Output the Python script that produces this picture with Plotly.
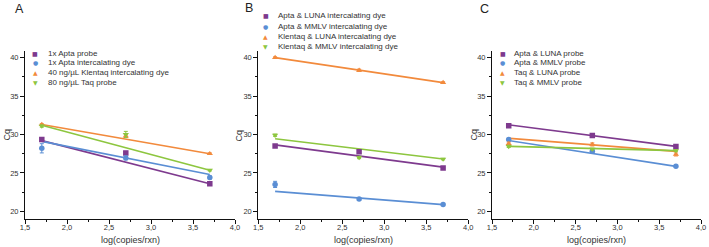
import plotly.graph_objects as go

# ---------------- data ----------------
x_log = [1.7, 2.7, 3.7]
x_fit = [1.7, 3.7]

# Panel A
a_names = ["1x Apta probe", "1x Apta intercalating dye",
           "40 ng/µL Klentaq intercalating dye", "80 ng/µL Taq probe"]
a_cq = [[29.35, 27.6, 23.6],
        [28.2, 26.95, 24.4],
        [31.3, 29.8, 27.5],
        [31.1, 30.0, 25.35]]
a_err = [[0.15, 0.2, 0.1],
         [0.6, 0.25, 0.2],
         [0.1, 0.15, 0.1],
         [0.15, 0.4, 0.1]]
a_fit = [[29.2, 23.6],
         [29.1, 24.8],
         [31.3, 27.5],
         [31.2, 25.35]]

# Panel B
b_names = ["Apta & LUNA intercalating dye", "Apta & MMLV intercalating dye",
           "Klentaq & LUNA intercalating dye", "Klentaq & MMLV intercalating dye"]
b_cq = [[28.5, 27.75, 25.65],
        [23.5, 21.6, 20.9],
        [40.0, 38.35, 36.75],
        [29.9, 27.0, 26.8]]
b_err = [[0.15, 0.2, 0.1],
         [0.4, 0.15, 0.1],
         [0.1, 0.15, 0.1],
         [0.15, 0.15, 0.1]]
b_fit = [[28.65, 25.75],
         [22.6, 20.87],
         [40.0, 36.75],
         [29.45, 26.8]]

# Panel C
c_names = ["Apta & LUNA probe", "Apta & MMLV probe",
           "Taq & LUNA probe", "Taq & MMLV probe"]
c_cq = [[31.15, 29.85, 28.45],
        [29.35, 27.8, 25.85],
        [28.8, 28.7, 27.4],
        [28.45, 28.1, 27.9]]
c_err = [[0.15, 0.1, 0.1],
         [0.15, 0.15, 0.1],
         [0.2, 0.2, 0.2],
         [0.15, 0.1, 0.1]]
c_fit = [[31.25, 28.45],
         [29.2, 25.85],
         [29.5, 27.8],
         [28.45, 27.9]]

panel_labels = ["A", "B", "C"]
x_ticks = [1.5, 2.0, 2.5, 3.0, 3.5, 4.0]
y_ticks = [20, 25, 30, 35, 40]
x_title = "log(copies/rxn)"
y_title = "Cq"

# ---------------- style ----------------
colors = ["#7E3A8E", "#5A8ED4", "#F28A3C", "#8DC63F"]
symbols = ["square", "circle", "triangle-up", "triangle-down"]
glyphs = ["■", "●", "▲", "▼"]
FONT = "Liberation Sans, Arial, sans-serif"

W, H = 709, 247


def px(x):
    return x / W


def py(y):
    return 1 - y / H


x_doms = [(25, 235), (258.3, 468.3), (492, 701)]
y_bot, y_top = 219, 50.7

panels = [(a_names, a_cq, a_err, a_fit),
          (b_names, b_cq, b_err, b_fit),
          (c_names, c_cq, c_err, c_fit)]

legend_pos = [(35, 45.5, 53, 9.8), (265.5, 275.5, 16, 10.1), (502.5, 511.5, 53, 9.8)]
label_pos = [(19, 9.5), (249, 7.5), (484, 9.5)]
cq_pos = [6.5, 238.5, 473.5]

fig = go.Figure()
annotations = []
layout_axes = {}

for p, (names, cq, err, fit) in enumerate(panels):
    sfx = "" if p == 0 else str(p + 1)
    xa, ya = "x" + sfx, "y" + sfx
    for k in range(4):
        fig.add_trace(go.Scatter(
            x=x_fit, y=fit[k], mode="lines", xaxis=xa, yaxis=ya,
            line=dict(color=colors[k], width=1.6), showlegend=False,
            hoverinfo="skip"))
    for k in range(4):
        fig.add_trace(go.Scatter(
            x=x_log, y=cq[k], mode="markers", name=names[k], xaxis=xa, yaxis=ya,
            marker=dict(symbol=symbols[k], color=colors[k], size=5.5),
            error_y=dict(type="data", array=err[k], color=colors[k],
                         thickness=1, width=2),
            showlegend=False))

    x0, x1 = x_doms[p]
    axis_common = dict(showline=True, linecolor="#111", linewidth=1,
                       ticks="outside", ticklen=4, tickwidth=1, tickcolor="#111",
                       showgrid=False, zeroline=False, automargin=False,
                       tickfont=dict(family=FONT, size=7.5, color="#333"))
    layout_axes["xaxis" + sfx] = dict(
        domain=[px(x0), px(x1)], range=[1.5, 4.0], anchor=ya,
        tickvals=x_ticks, tickformat=".1f", ticklabelstandoff=-3,
        minor=dict(ticks="outside", ticklen=2, dtick=0.25, tick0=1.5,
                   tickcolor="#111"),
        **axis_common)
    layout_axes["yaxis" + sfx] = dict(
        domain=[py(y_bot), py(y_top)], range=[19, 40.9], anchor=xa,
        tickvals=y_ticks,
        minor=dict(ticks="outside", ticklen=2, dtick=2.5, tick0=20,
                   tickcolor="#111"),
        **axis_common)

    # axis titles
    annotations.append(dict(text=y_title, xref="paper", yref="paper",
                            x=px(cq_pos[p]), y=py(135), showarrow=False,
                            textangle=-90, xanchor="center", yanchor="middle",
                            borderpad=0,
                            font=dict(family=FONT, size=9, color="#333")))
    annotations.append(dict(text=x_title, xref="paper", yref="paper",
                            x=px((x0 + x1) / 2), y=py(240), showarrow=False,
                            xanchor="center", yanchor="middle",
                            font=dict(family=FONT, size=9, color="#333")))
    # panel label
    lx, ly = label_pos[p]
    annotations.append(dict(text=panel_labels[p], xref="paper", yref="paper",
                            x=px(lx), y=py(ly), showarrow=False,
                            xanchor="center", yanchor="middle", borderpad=0,
                            font=dict(family=FONT, size=12.5, color="#222")))
    # legend rows
    sx, tx, ry, step = legend_pos[p]
    for k in range(4):
        yy = py(ry + k * step)
        annotations.append(dict(text=glyphs[k], xref="paper", yref="paper",
                                x=px(sx), y=yy, showarrow=False,
                                xanchor="center", yanchor="middle",
                                font=dict(family="DejaVu Sans", size=6,
                                          color=colors[k])))
        annotations.append(dict(text=names[k], xref="paper", yref="paper",
                                x=px(tx), y=yy, showarrow=False,
                                xanchor="left", yanchor="middle",
                                font=dict(family=FONT, size=8, color="#333")))

fig.update_layout(
    width=W, height=H,
    margin=dict(l=0, r=0, t=0, b=0),
    paper_bgcolor="white", plot_bgcolor="white",
    separators=",.",
    showlegend=False,
    annotations=annotations,
    font=dict(family=FONT),
    **layout_axes)

fig.write_html("out.html",
               config={"displayModeBar": False, "staticPlot": True},
               post_script="document.body.style.margin='0px';"
                           "document.body.style.overflow='hidden';")
